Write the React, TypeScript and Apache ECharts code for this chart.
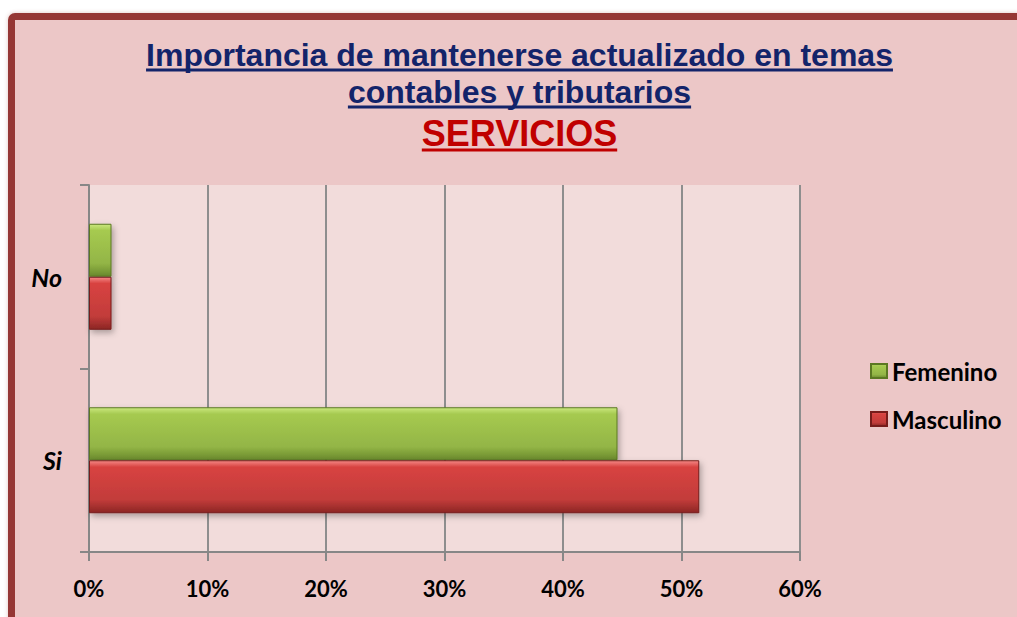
import React, { useEffect, useRef } from "react";
import * as echarts from "echarts";

const categories = ["Si", "No"];
const femenino = [44.6, 1.9];
const masculino = [51.5, 1.9];
const seriesNames = ["Femenino", "Masculino"];
const titleLines = ["Importancia de mantenerse actualizado en temas", "contables y tributarios"];
const subtitleText = "SERVICIOS";

const W = 1017;
const H = 617;

function measure(text: string, font: string): number {
  const c = document.createElement("canvas");
  const ctx = c.getContext("2d");
  if (!ctx) return text.length * 16;
  ctx.font = font;
  return ctx.measureText(text).width;
}

export default function App() {
  const ref = useRef<HTMLDivElement>(null);
  useEffect(() => {
    if (!ref.current) return;
    const chart = echarts.init(ref.current, undefined, { renderer: "svg" });
    const cx = 519.5;
    const titleFont = 'bold 32px "Liberation Sans"';
    const subFont = 'bold 36px "Liberation Sans"';
    const navy = "#13246a";
    const red = "#c00000";
    const lines = [
      { text: titleLines[0], font: titleFont, base: 67, ul: 70, color: navy, size: 32 },
      { text: titleLines[1], font: titleFont, base: 104, ul: 107, color: navy, size: 32 },
      { text: subtitleText, font: subFont, base: 146, ul: 150, color: red, size: 36 },
    ];
    const graphics: any[] = [];
    lines.forEach((l) => {
      const w = measure(l.text, l.font);
      graphics.push({
        type: "text",
        style: {
          text: l.text,
          x: cx,
          y: l.base - 0.36 * l.size,
          font: l.font,
          fill: l.color,
          textAlign: "center",
          textVerticalAlign: "middle",
        },
      });
      graphics.push({
        type: "rect",
        shape: { x: cx - w / 2, y: l.ul - 1.5, width: w, height: 3 },
        style: { fill: l.color },
      });
    });

    const green = new echarts.graphic.LinearGradient(0, 0, 0, 1, [
      { offset: 0, color: "#cbe87f" },
      { offset: 0.12, color: "#a6ca50" },
      { offset: 0.75, color: "#93b546" },
      { offset: 1, color: "#6a8a2d" },
    ]);
    const redG = new echarts.graphic.LinearGradient(0, 0, 0, 1, [
      { offset: 0, color: "#f58886" },
      { offset: 0.12, color: "#d84341" },
      { offset: 0.75, color: "#c23c3a" },
      { offset: 1, color: "#8c2624" },
    ]);
    const axisGray = "#878787";
    chart.setOption({
      animation: false,
      graphic: graphics,
      grid: {
        left: 89,
        right: W - 800,
        top: 185,
        bottom: H - 552,
        show: true,
        backgroundColor: "#f2dcdb",
        borderWidth: 0,
      },
      legend: {
        orient: "vertical",
        left: 865,
        top: 354,
        itemWidth: 16,
        itemHeight: 14,
        itemGap: 24,
        icon: "rect",
        data: seriesNames,
        textStyle: {
          fontFamily: "Lato",
          fontWeight: "bold",
          fontSize: 24,
          lineHeight: 24,
          color: "#000",
        },
      },
      xAxis: {
        type: "value",
        min: 0,
        max: 60,
        interval: 10,
        axisLine: { show: true, lineStyle: { color: axisGray, width: 2 } },
        axisTick: { show: true, length: 9, lineStyle: { color: axisGray, width: 2 } },
        splitLine: { show: true, lineStyle: { color: "#8e8e8e", width: 2 } },
        axisLabel: {
          formatter: "{value}%",
          fontFamily: "Lato",
          fontWeight: "bold",
          fontSize: 22,
          color: "#000",
          margin: 25,
        },
      },
      yAxis: {
        type: "category",
        data: categories,
        axisLine: { show: true, lineStyle: { color: axisGray, width: 2 } },
        axisTick: { show: true, length: 9, lineStyle: { color: axisGray, width: 2 } },
        splitLine: { show: false },
        axisLabel: {
          fontFamily: "Lato",
          fontWeight: "bold",
          fontStyle: "italic",
          fontSize: 25,
          color: "#000",
          margin: 27,
        },
      },
      series: [
        {
          name: seriesNames[0],
          type: "bar",
          data: femenino,
          barWidth: 53,
          barGap: "0%",
          itemStyle: {
            color: green,
            borderColor: "#5b7822",
            borderWidth: 1,
            shadowColor: "rgba(0,0,0,0.3)",
            shadowBlur: 6,
            shadowOffsetX: 2,
            shadowOffsetY: 3,
          },
        },
        {
          name: seriesNames[1],
          type: "bar",
          data: masculino,
          barWidth: 53,
          barGap: "0%",
          itemStyle: {
            color: redG,
            borderColor: "#761c1b",
            borderWidth: 1,
            shadowColor: "rgba(0,0,0,0.3)",
            shadowBlur: 6,
            shadowOffsetX: 2,
            shadowOffsetY: 3,
          },
        },
      ],
    });
    return () => chart.dispose();
  }, []);

  return (
    <div style={{ position: "fixed", left: 0, top: 0, width: W, height: H, overflow: "hidden", background: "#fff" }}>
      <div
        style={{
          position: "absolute",
          left: 8,
          top: 13,
          width: 1100,
          height: 700,
          border: "7px solid #953735",
          borderRadius: 7,
          background: "#ecc7c7",
          boxShadow: "0 0 4px rgba(149,55,53,0.3)",
        }}
      />
      <div ref={ref} style={{ position: "absolute", left: 0, top: 0, width: W, height: H }} />
    </div>
  );
}
